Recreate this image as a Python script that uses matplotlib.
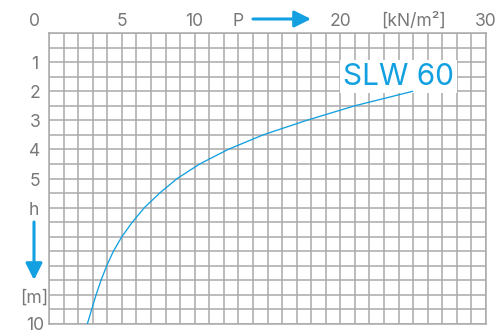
import matplotlib
matplotlib.use("Agg")
import matplotlib.pyplot as plt
import numpy as np

# data
pressure = [2.63, 2.93, 3.23, 3.57, 3.96, 4.42, 5.0, 5.72, 6.55, 7.6, 8.8,
            10.35, 12.3, 14.7, 17.7, 21.0, 25.0]
depth = [10, 9.5, 9, 8.5, 8, 7.5, 7, 6.5, 6, 5.5, 5, 4.5, 4, 3.5, 3, 2.5, 2.0]
series_label = "SLW 60"
x_tick_labels = ["0", "5", "10", "20", "30"]
x_tick_values = [0, 5, 10, 20, 30]
y_tick_labels = ["1", "2", "3", "4", "5", "10"]
y_tick_values = [1, 2, 3, 4, 5, 10]

W, H = 500, 333
GRID = "#aaaaaa"
TXT = "#787878"
BLUE = "#12a0e0"
FONT = "Inter"
FS = 12.6

fig = plt.figure(figsize=(W / 100, H / 100), dpi=100)
left, right, top, bottom = 49, 486, 33, 324
ax = fig.add_axes([left / W, 1 - bottom / H, (right - left) / W, (bottom - top) / H])
ax.set_xlim(0, 30)
ax.set_ylim(10, 0)
ax.set_xticks(np.arange(0, 31, 1))
ax.set_yticks(np.arange(0, 10.01, 0.5))
ax.tick_params(length=0, labelbottom=False, labelleft=False)
ax.grid(True, color=GRID, lw=1.1)
for s in ax.spines.values():
    s.set_color(GRID)
    s.set_linewidth(1.1)

ax.plot(pressure, depth, color=BLUE, lw=0.95, solid_capstyle="butt",
        solid_joinstyle="round", clip_on=False, zorder=6)
ax.text(24.0, 1.5, series_label, color=BLUE, fontsize=21.5, family=FONT,
        ha="center", va="center", zorder=5,
        bbox=dict(facecolor="white", edgecolor="none", pad=2.0))

def ptx(px):
    return px / W

def pty(py):
    return 1 - py / H

def px_of_P(p):
    return left + p * (right - left) / 30

def py_of_h(h):
    return top + h * (bottom - top) / 10

# top labels
x_label_px = {"0": 34}
for v, lab in zip(x_tick_values, x_tick_labels):
    xp = x_label_px.get(lab, px_of_P(v))
    fig.text(ptx(xp), pty(26), lab, color=TXT, fontsize=FS, family=FONT,
             ha="center", va="baseline")
fig.text(ptx(238), pty(26), "P", color=TXT, fontsize=FS, family=FONT,
         ha="center", va="baseline")
fig.text(ptx(413.5), pty(26), "[kN/m²]", color=TXT, fontsize=FS, family=FONT,
         ha="center", va="baseline")

# left labels
for v, lab in zip(y_tick_values, y_tick_labels):
    yb = py_of_h(v) + 7 if v < 10 else 330
    fig.text(ptx(35), pty(yb), lab, color=TXT, fontsize=FS,
             family=FONT, ha="center", va="baseline")
fig.text(ptx(34), pty(215), "h", color=TXT, fontsize=FS, family=FONT,
         ha="center", va="baseline")
fig.text(ptx(34), pty(302.5), "[m]", color=TXT, fontsize=FS, family=FONT,
         ha="center", va="baseline")

# arrows
style = "-|>,head_length=1.0,head_width=0.5"
ax.annotate("", xy=(311, H - 19), xytext=(253, H - 19),
            xycoords="figure pixels", textcoords="figure pixels",
            arrowprops=dict(arrowstyle=style, mutation_scale=10, lw=2.2,
                            color=BLUE, shrinkA=0, shrinkB=0))
ax.annotate("", xy=(34, H - 280), xytext=(34, H - 222),
            xycoords="figure pixels", textcoords="figure pixels",
            arrowprops=dict(arrowstyle=style, mutation_scale=10, lw=2.2,
                            color=BLUE, shrinkA=0, shrinkB=0))

fig.savefig("out.png", dpi=100, facecolor="white")
